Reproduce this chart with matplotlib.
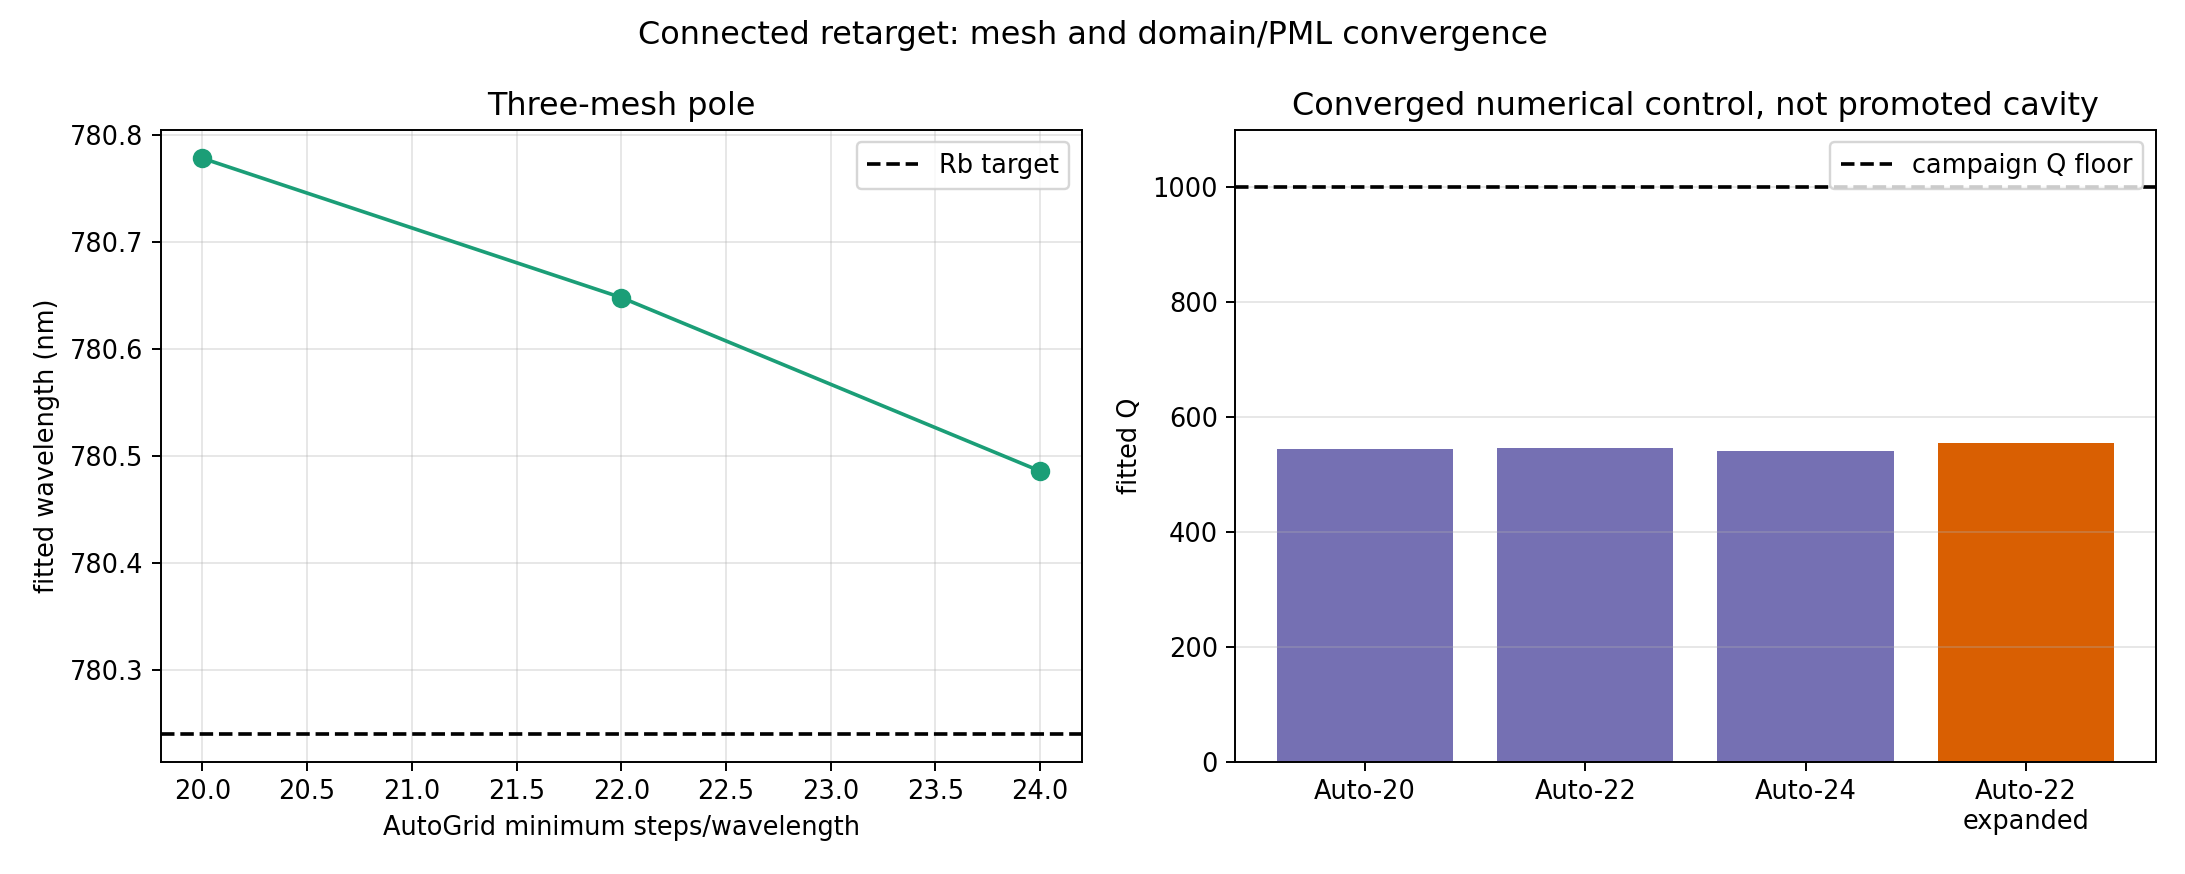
import matplotlib
matplotlib.use("Agg")
import matplotlib.pyplot as plt

# mesh sweep: AutoGrid minimum steps/wavelength vs fitted pole wavelength
mesh_steps = [20, 22, 24]
fitted_wavelength_nm = [780.778, 780.648, 780.486]
rb_target_nm = 780.241

# fitted Q per run
run_labels = ["Auto-20", "Auto-22", "Auto-24", "Auto-22\nexpanded"]
fitted_q = [544, 547, 542, 555]
bar_colors = ["#7570b3", "#7570b3", "#7570b3", "#d95f02"]
q_floor = 1000

plt.rcParams["font.size"] = 10.55

fig = plt.figure(figsize=(2185 / 175, 874 / 175), dpi=175)
ax1 = fig.add_axes([0.0735, 0.1278, 0.4217, 0.724])
ax2 = fig.add_axes([0.5652, 0.1278, 0.4215, 0.724])

fig.suptitle("Connected retarget: mesh and domain/PML convergence", fontsize=13.1, y=0.977)

# left panel
ax1.plot(mesh_steps, fitted_wavelength_nm, "-o", color="#1b9e77", lw=1.5, ms=7)
ax1.axhline(rb_target_nm, color="black", ls="--", lw=1.5, label="Rb target")
ax1.set_title("Three-mesh pole", fontsize=13.1)
ax1.set_xlabel("AutoGrid minimum steps/wavelength")
ax1.set_ylabel("fitted wavelength (nm)")
ax1.grid(alpha=0.3)
ax1.legend(loc="upper right")

# right panel
ax2.bar(run_labels, fitted_q, color=bar_colors)
ax2.axhline(q_floor, color="black", ls="--", lw=1.5, label="campaign Q floor")
ax2.set_ylim(0, 1100)
ax2.set_title("Converged numerical control, not promoted cavity", fontsize=13.1)
ax2.set_ylabel("fitted Q")
ax2.grid(axis="y", alpha=0.3)
ax2.legend(loc="upper right")

plt.savefig("out.png", dpi=175)
plt.close()
print("saved out.png")
